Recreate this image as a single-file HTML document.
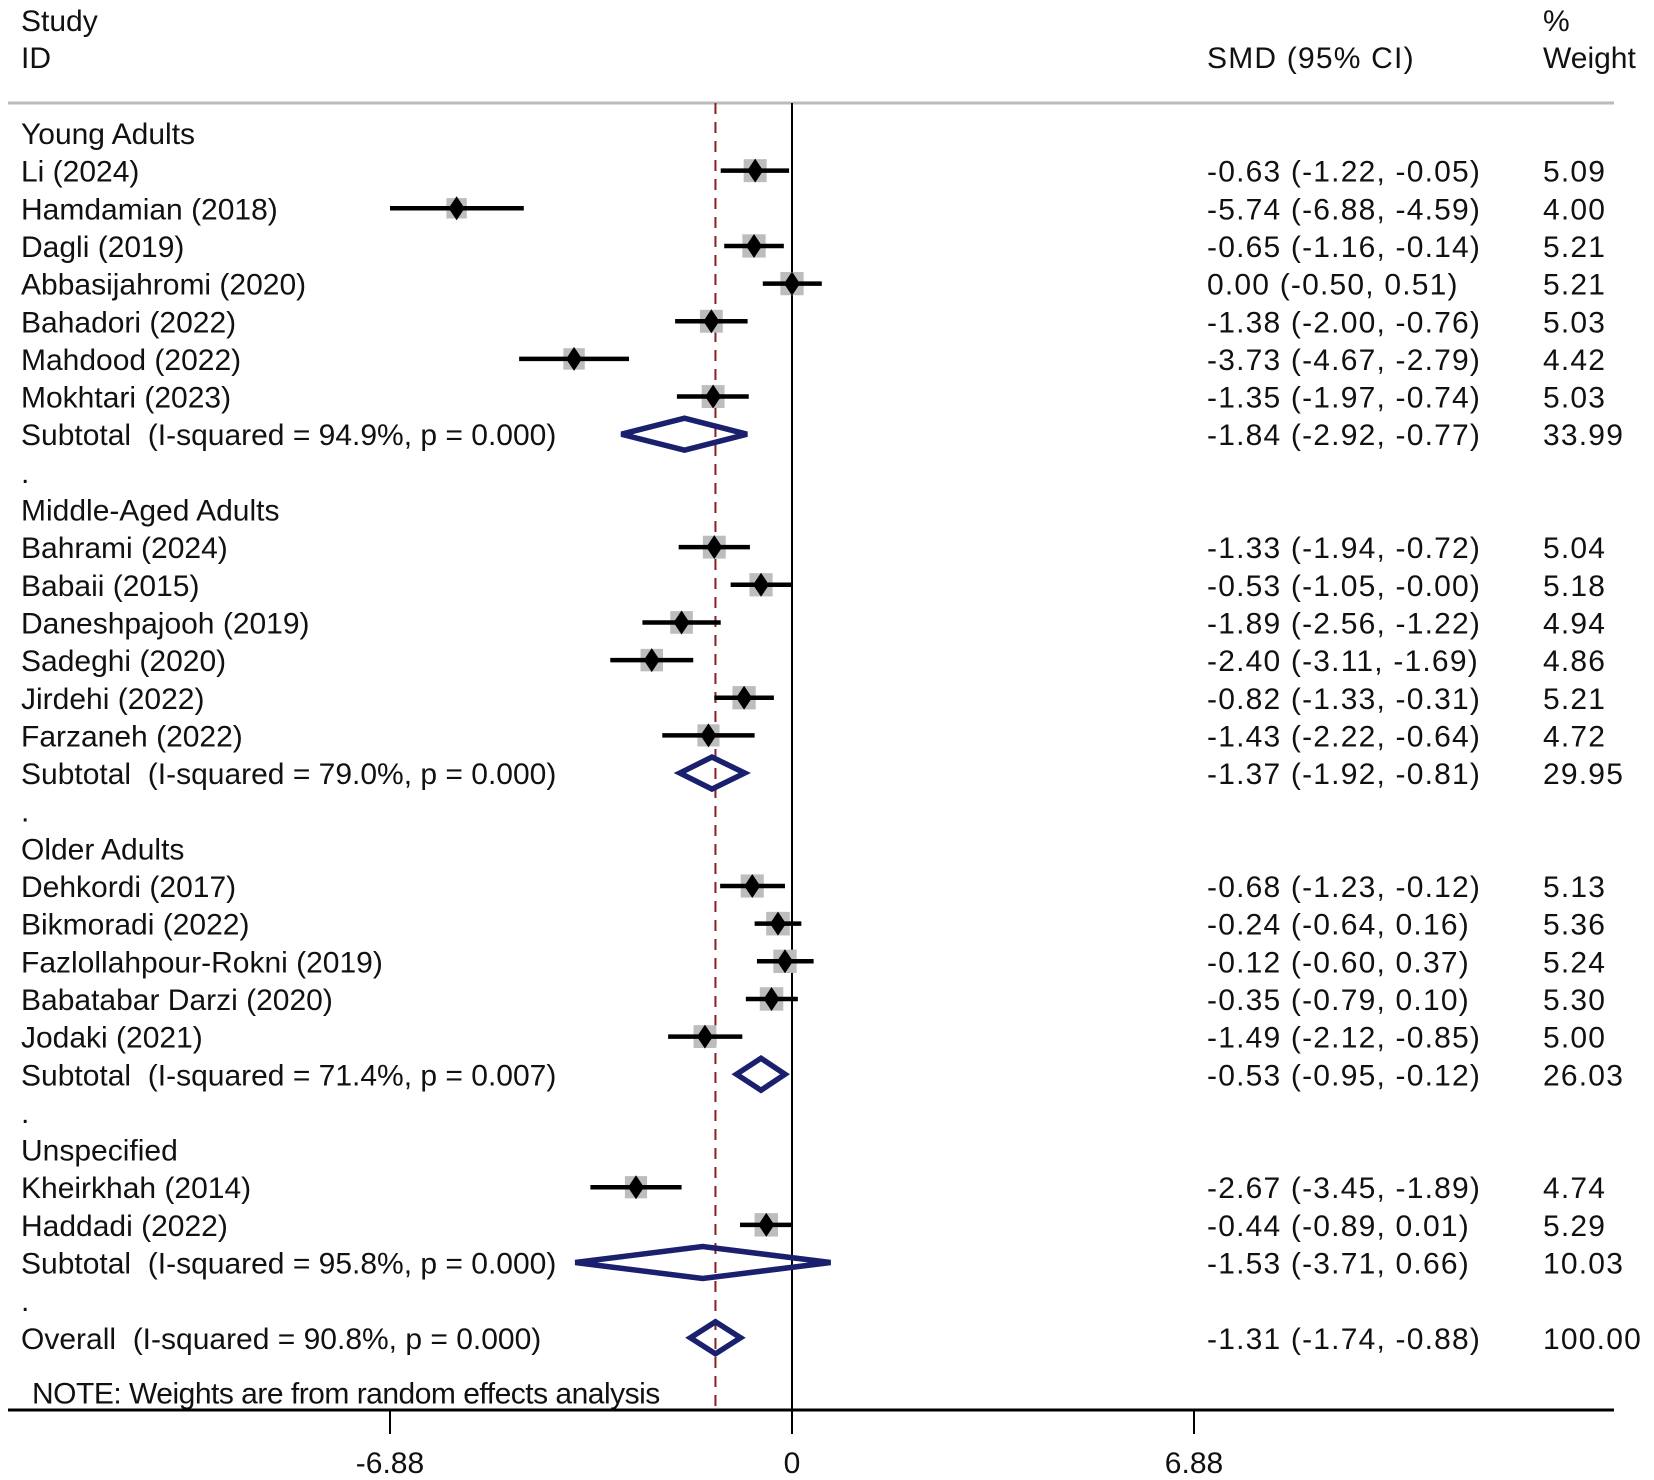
<!DOCTYPE html>
<html><head><meta charset="utf-8"><style>
html,body{margin:0;padding:0;background:#fff}
svg{display:block}
text{font-family:"Liberation Sans",Arial,sans-serif;font-size:30px;letter-spacing:1.2px;fill:#111;white-space:pre}
text.lbl{letter-spacing:0px}
text.note{letter-spacing:-0.5px}
</style></head><body>
<svg id="chart" width="1654" height="1480" viewBox="0 0 1654 1480" xmlns="http://www.w3.org/2000/svg" xml:space="preserve">
<text class="lbl" x="21" y="31">Study</text>
<text class="lbl" x="21" y="68">ID</text>
<text x="1207" y="68">SMD (95% CI)</text>
<text x="1543" y="31">%</text>
<text class="lbl" x="1543" y="68">Weight</text>
<line x1="8" y1="103" x2="1614" y2="103" stroke="#bbb" stroke-width="3"/>
<g id="marks"></g>
</svg>
<script>
const rowKinds = ["h","s","s","s","s","s","s","s","t","d","h","s","s","s","s","s","s","t","d","h","s","s","s","s","s","t","d","h","s","s","t","d","o"];
const rowLabels = ["Young Adults","Li (2024)","Hamdamian (2018)","Dagli (2019)","Abbasijahromi (2020)","Bahadori (2022)","Mahdood (2022)","Mokhtari (2023)","Subtotal  (I-squared = 94.9%, p = 0.000)",".","Middle-Aged Adults","Bahrami (2024)","Babaii (2015)","Daneshpajooh (2019)","Sadeghi (2020)","Jirdehi (2022)","Farzaneh (2022)","Subtotal  (I-squared = 79.0%, p = 0.000)",".","Older Adults","Dehkordi (2017)","Bikmoradi (2022)","Fazlollahpour-Rokni (2019)","Babatabar Darzi (2020)","Jodaki (2021)","Subtotal  (I-squared = 71.4%, p = 0.007)",".","Unspecified","Kheirkhah (2014)","Haddadi (2022)","Subtotal  (I-squared = 95.8%, p = 0.000)",".","Overall  (I-squared = 90.8%, p = 0.000)"];
const est = [null,-0.63,-5.74,-0.65,0.00,-1.38,-3.73,-1.35,-1.84,null,null,-1.33,-0.53,-1.89,-2.40,-0.82,-1.43,-1.37,null,null,-0.68,-0.24,-0.12,-0.35,-1.49,-0.53,null,null,-2.67,-0.44,-1.53,null,-1.31];
const lower = [null,-1.22,-6.88,-1.16,-0.50,-2.00,-4.67,-1.97,-2.92,null,null,-1.94,-1.05,-2.56,-3.11,-1.33,-2.22,-1.92,null,null,-1.23,-0.64,-0.60,-0.79,-2.12,-0.95,null,null,-3.45,-0.89,-3.71,null,-1.74];
const upper = [null,-0.05,-4.59,-0.14,0.51,-0.76,-2.79,-0.74,-0.77,null,null,-0.72,-0.00,-1.22,-1.69,-0.31,-0.64,-0.81,null,null,-0.12,0.16,0.37,0.10,-0.85,-0.12,null,null,-1.89,0.01,0.66,null,-0.88];
const weights = [null,5.09,4.00,5.21,5.21,5.03,4.42,5.03,33.99,null,null,5.04,5.18,4.94,4.86,5.21,4.72,29.95,null,null,5.13,5.36,5.24,5.30,5.00,26.03,null,null,4.74,5.29,10.03,null,100.00];
const ciText = [null,"-0.63 (-1.22, -0.05)","-5.74 (-6.88, -4.59)","-0.65 (-1.16, -0.14)","0.00 (-0.50, 0.51)","-1.38 (-2.00, -0.76)","-3.73 (-4.67, -2.79)","-1.35 (-1.97, -0.74)","-1.84 (-2.92, -0.77)",null,null,"-1.33 (-1.94, -0.72)","-0.53 (-1.05, -0.00)","-1.89 (-2.56, -1.22)","-2.40 (-3.11, -1.69)","-0.82 (-1.33, -0.31)","-1.43 (-2.22, -0.64)","-1.37 (-1.92, -0.81)",null,null,"-0.68 (-1.23, -0.12)","-0.24 (-0.64, 0.16)","-0.12 (-0.60, 0.37)","-0.35 (-0.79, 0.10)","-1.49 (-2.12, -0.85)","-0.53 (-0.95, -0.12)",null,null,"-2.67 (-3.45, -1.89)","-0.44 (-0.89, 0.01)","-1.53 (-3.71, 0.66)",null,"-1.31 (-1.74, -0.88)"];
const weightText = [null,"5.09","4.00","5.21","5.21","5.03","4.42","5.03","33.99",null,null,"5.04","5.18","4.94","4.86","5.21","4.72","29.95",null,null,"5.13","5.36","5.24","5.30","5.00","26.03",null,null,"4.74","5.29","10.03",null,"100.00"];
const tickValues = [-6.88, 0, 6.88];
const tickLabels = ["-6.88","0","6.88"];
const overallEst = -1.31;

const NS="http://www.w3.org/2000/svg";
const g=document.getElementById('marks');
const xs=v=>792+v*58.43;
const ys=i=>133+i*37.65;
const TOP=103, AX=1410;
function mk(tag,attrs){const e=document.createElementNS(NS,tag);for(const k in attrs)e.setAttribute(k,attrs[k]);g.appendChild(e);return e;}

let e;
e=mk('line',{x1:xs(0),y1:TOP,x2:xs(0),y2:AX,stroke:'#000','stroke-width':2});


e=mk('line',{x1:xs(overallEst),y1:TOP,x2:xs(overallEst),y2:AX,stroke:'#8b1f24','stroke-width':2,'stroke-dasharray':'11 8'});



rowKinds.forEach((k,i)=>{
  const y=ys(i);
  const t=mk('text',{x:21,y:y+11,'class':'lbl'});
  t.textContent=rowLabels[i];
  
  
  if(ciText[i]){
    const c=mk('text',{x:1207,y:y+11});c.textContent=ciText[i];
    
    
    const w=mk('text',{x:1543,y:y+11});w.textContent=weightText[i];
    
    
  }
  if(k==='s'){
    const s=23*Math.sqrt(weights[i]/5.09);
    const r=mk('rect',{x:xs(est[i])-s/2,y:y-s/2,width:s,height:s,fill:'#bdbdbd'});
    
    
    const l=mk('line',{x1:xs(lower[i]),y1:y,x2:xs(upper[i]),y2:y,stroke:'#000','stroke-width':4.5});
    
    
    const cx=xs(est[i]);
    const p=mk('polygon',{points:`${cx},${y-12} ${cx+8},${y} ${cx},${y+12} ${cx-8},${y}`,fill:'#000'});
    
    
  }
  if(k==='t'||k==='o'){
    const a=xs(lower[i]),b=xs(upper[i]),c=xs(est[i]);
    const p=mk('polygon',{points:`${a},${y} ${c},${y-16} ${b},${y} ${c},${y+16}`,fill:'none',stroke:'#1a1f6e','stroke-width':5.5,'stroke-linejoin':'miter'});
    
    
  }
});
e=mk('text',{x:32,y:ys(33.45)+11,'class':'note'});
e.textContent='NOTE: Weights are from random effects analysis';


e=mk('line',{x1:8,y1:AX,x2:1614,y2:AX,stroke:'#000','stroke-width':3});


tickValues.forEach((v,i)=>{
  const tk=mk('line',{x1:xs(v),y1:AX,x2:xs(v),y2:AX+24,stroke:'#000','stroke-width':2});
  
  
  const tl=mk('text',{x:xs(v),y:1473,'text-anchor':'middle','class':'lbl'});
  tl.textContent=tickLabels[i];
  
  
});
</script>
</body></html>
